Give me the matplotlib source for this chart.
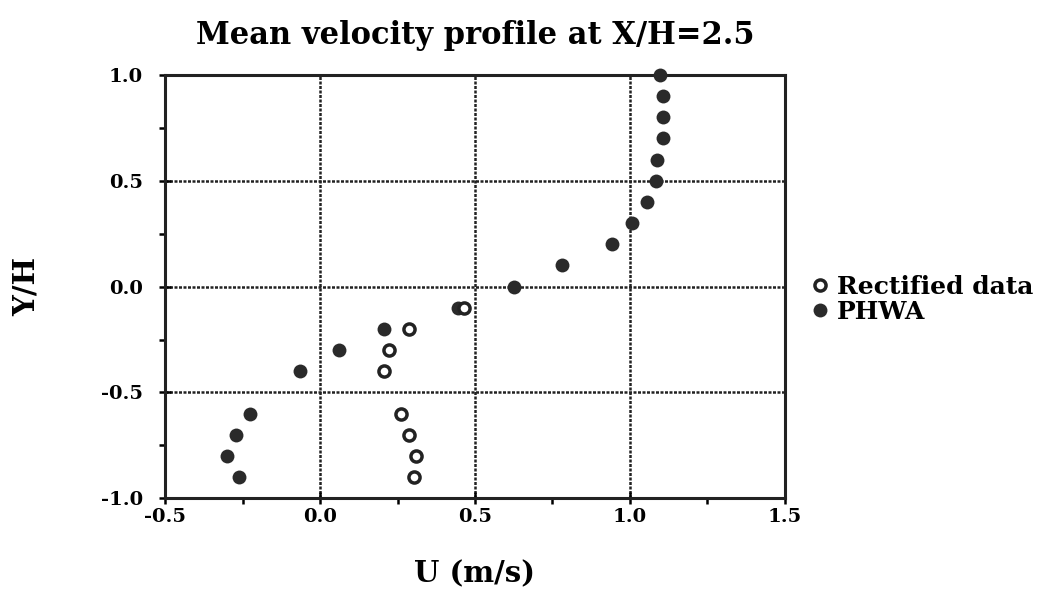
import matplotlib
matplotlib.use("Agg")
import matplotlib.pyplot as plt
from matplotlib.ticker import MultipleLocator

# PHWA (filled)
phwa_u = [1.096, 1.107, 1.107, 1.107, 1.088, 1.086, 1.057, 1.008, 0.941, 0.78, 0.626,
          0.445, 0.205, 0.06, -0.066, -0.226, -0.272, -0.301, -0.262]
phwa_y = [1.0, 0.9, 0.8, 0.7, 0.6, 0.5, 0.4, 0.3, 0.2, 0.1, 0.0,
          -0.1, -0.2, -0.3, -0.4, -0.6, -0.7, -0.8, -0.9]
# Rectified data (open)
rect_u = [0.464, 0.287, 0.221, 0.205, 0.26, 0.287, 0.31, 0.303]
rect_y = [-0.1, -0.2, -0.3, -0.4, -0.6, -0.7, -0.8, -0.9]

title = "Mean velocity profile at X/H=2.5"
xlabel = "U (m/s)"
ylabel = "Y/H"
xticks = [-0.5, 0.0, 0.5, 1.0, 1.5]
yticks = [-1.0, -0.5, 0.0, 0.5, 1.0]

plt.rcParams['font.family'] = ['DejaVu Serif']
plt.rcParams['font.weight'] = 'bold'

fig = plt.figure(figsize=(10.59, 5.94), dpi=100)
ax = fig.add_axes([0.156, 0.161, 0.585, 0.713])

ax.set_xlim(-0.5, 1.5)
ax.set_ylim(-1.0, 1.0)
ax.set_xticks(xticks)
ax.set_yticks(yticks)
ax.set_xticklabels([f"{v:.1f}" for v in xticks])
ax.set_yticklabels([f"{v:.1f}" for v in yticks])
ax.xaxis.set_minor_locator(MultipleLocator(0.25))
ax.yaxis.set_minor_locator(MultipleLocator(0.25))
ax.tick_params(which='major', direction='inout', length=8, width=1.8, labelsize=14)
ax.tick_params(axis='y', which='major', pad=12)
ax.tick_params(axis='x', which='major', pad=3)
ax.tick_params(which='minor', direction='out', length=4, width=1.8)
for lab in ax.get_xticklabels() + ax.get_yticklabels():
    lab.set_fontweight('bold')

ax.grid(True, which='major', color='#222222', linewidth=1.8, linestyle=(0, (1.2, 0.6)))
for s in ax.spines.values():
    s.set_linewidth(2.2)
    s.set_color('#222222')

ax.plot(phwa_u, phwa_y, 'o', color='#2a2a2a', markersize=10, markeredgewidth=0,
        label='PHWA', zorder=3, clip_on=False)
ax.plot(rect_u, rect_y, 'o', markerfacecolor='white', markeredgecolor='#222222',
        markersize=8, markeredgewidth=2.5, label='Rectified data', zorder=4, clip_on=False)

handles, labels = ax.get_legend_handles_labels()
leg = ax.legend(handles[::-1], labels[::-1], loc='center left', bbox_to_anchor=(1.0, 0.47),
                frameon=False, prop={'size': 18, 'weight': 'bold'}, handletextpad=0.2,
                handlelength=1.0, labelspacing=0.05)

ax.set_title(title, fontsize=22, fontweight='bold', pad=22)
ax.set_xlabel(xlabel, fontsize=21, fontweight='bold', labelpad=24)
ax.set_ylabel(ylabel, fontsize=21, fontweight='bold', labelpad=43)

fig.savefig("out.png", dpi=100, facecolor='white')
